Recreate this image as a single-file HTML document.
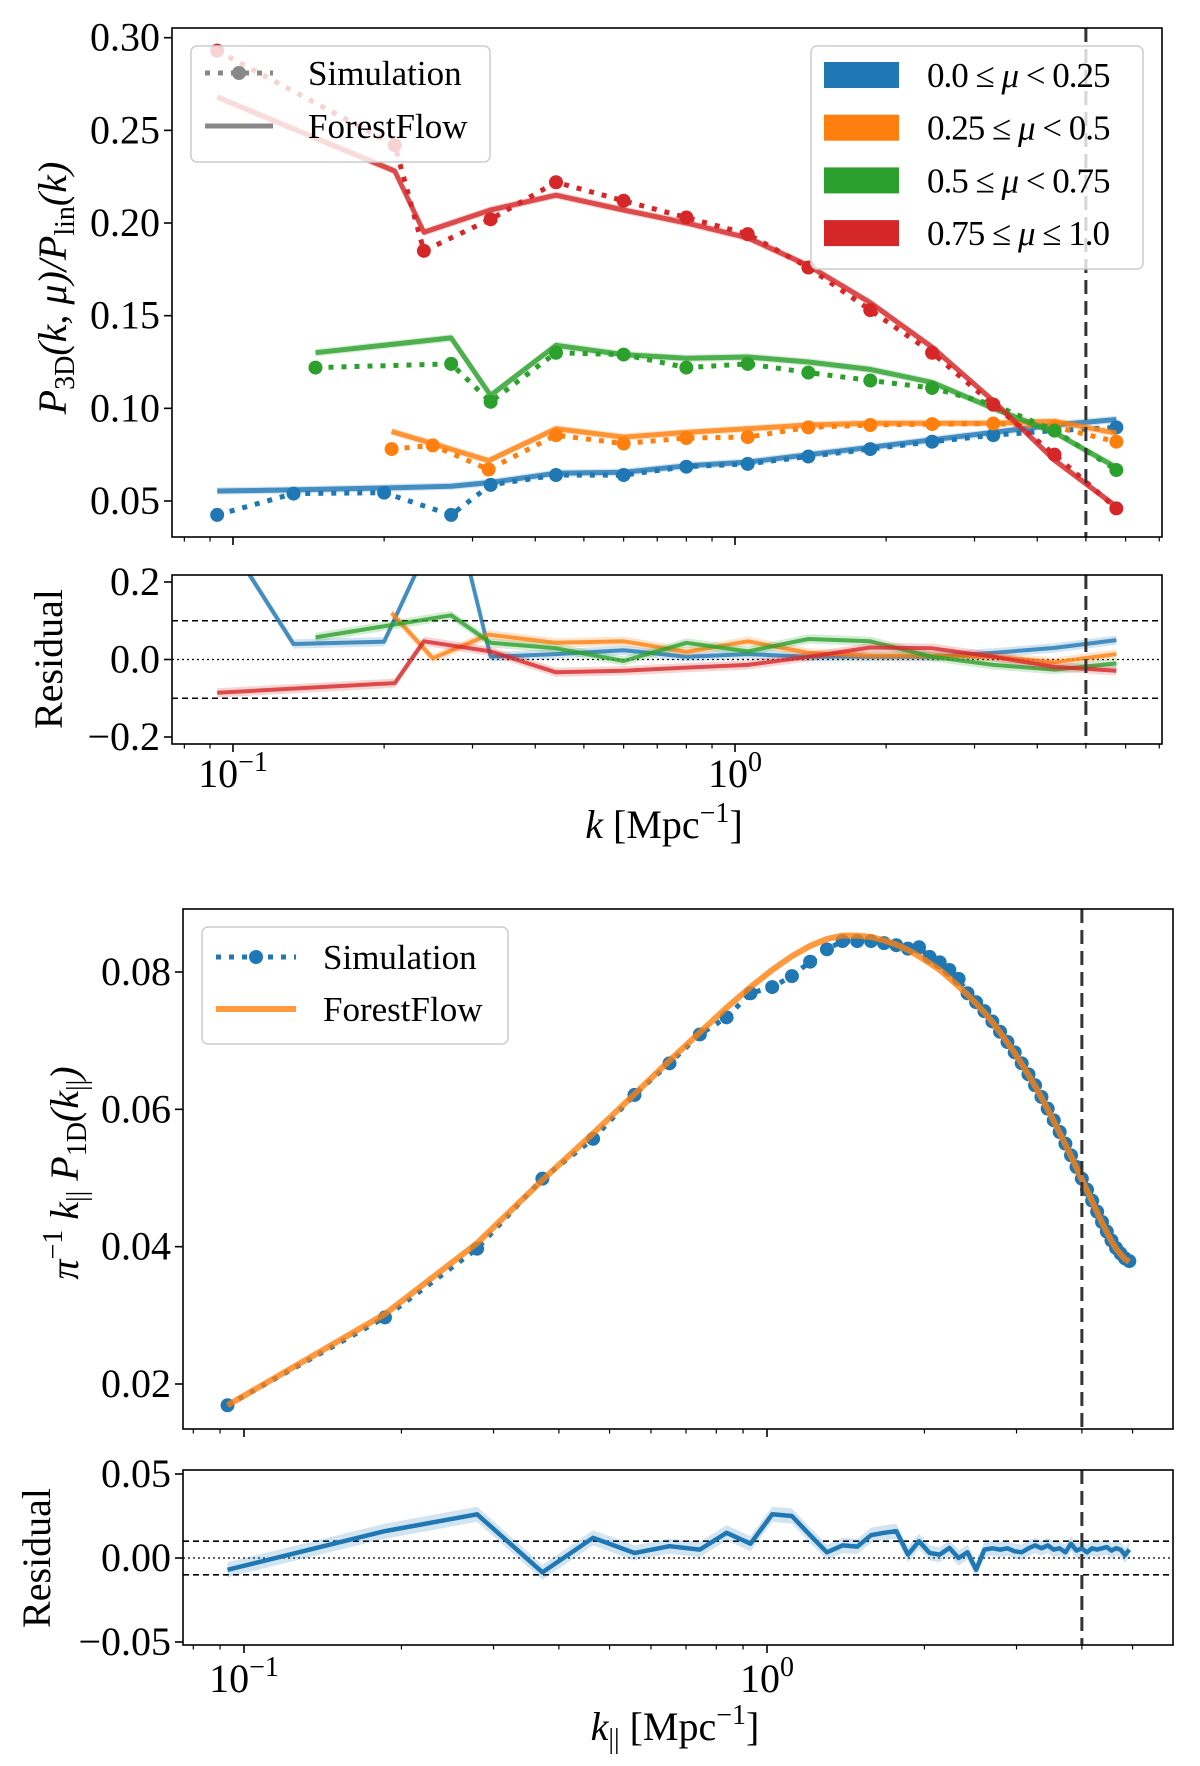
<!DOCTYPE html>
<html><head><meta charset="utf-8"><style>
body{margin:0;background:#fff}
svg{display:block;font-family:"Liberation Serif","Times New Roman",serif}
text,tspan{font-family:"Liberation Serif","Times New Roman",serif;fill:#000}
</style></head><body>
<svg id="fig" width="1200" height="1766" viewBox="0 0 1200 1766" font-family="Liberation Serif, serif" xmlns="http://www.w3.org/2000/svg"></svg>
<script>
// ---- top panel data (P3D) ----
const kTop = [0.093,0.132,0.20,0.272,0.326,0.44,0.60,0.80,1.06,1.40,1.86,2.47,3.27,4.33,5.75];
const blueSim = [0.0425,0.054,0.0545,0.0425,0.0587,0.064,0.064,0.0685,0.070,0.074,0.078,0.082,0.0855,0.088,0.0897];
const blueFF  = [0.0554,0.0560,0.0570,0.058,0.060,0.065,0.0655,0.069,0.071,0.075,0.079,0.083,0.087,0.091,0.094];
const kOr = [0.207,0.25,0.323,0.44,0.60,0.80,1.06,1.40,1.86,2.47,3.27,4.33,5.75];
const orSim = [0.078,0.080,0.067,0.0855,0.081,0.084,0.0845,0.0897,0.091,0.0915,0.0918,0.090,0.082];
const orFF  = [0.0875,0.081,0.0718,0.089,0.0845,0.087,0.089,0.091,0.092,0.092,0.092,0.093,0.0866];
const kGr = [0.146,0.272,0.326,0.44,0.60,0.80,1.06,1.40,1.86,2.47,3.27,4.33,5.75];
const grSim = [0.122,0.124,0.1035,0.130,0.129,0.122,0.124,0.1193,0.115,0.111,0.102,0.088,0.0667];
const grFF  = [0.130,0.138,0.107,0.134,0.129,0.127,0.1277,0.125,0.121,0.114,0.100,0.087,0.068];
const kRd = [0.093,0.21,0.24,0.326,0.44,0.60,0.80,1.06,1.40,1.86,2.47,3.27,4.33,5.75];
const rdSim = [0.293,0.242,0.185,0.202,0.222,0.212,0.203,0.194,0.176,0.153,0.130,0.102,0.075,0.046];
const rdFF  = [0.268,0.228,0.195,0.207,0.215,0.207,0.200,0.192,0.177,0.157,0.133,0.104,0.072,0.047];
const blueRes = [0.35,0.04,0.046,0.42,0.007,0.014,0.024,0.007,0.014,0.007,0.007,0.007,0.017,0.03,0.05];
const orRes = [0.12,0.003,0.064,0.043,0.047,0.02,0.047,0.017,0.01,0.01,0.007,-0.007,0.014];
const grRes = [0.057,0.114,0.043,0.029,-0.004,0.043,0.021,0.053,0.047,0.007,-0.014,-0.026,-0.01];
const rdRes = [-0.086,-0.061,0.047,0.021,-0.033,-0.029,-0.021,-0.014,0.007,0.031,0.029,0.007,-0.019,-0.029];
const topYTicks = [0.05,0.10,0.15,0.20,0.25,0.30];
const topYLabels = ["0.05","0.10","0.15","0.20","0.25","0.30"];
const resYTicks = [-0.2,0.0,0.2];
const resYLabels = ["\u22120.2","0.0","0.2"];
// ---- bottom panel data (P1D) ----
const k1d = [0.093,0.186,0.279,0.372,0.465,0.558,0.651,0.744,0.837,0.93,1.023,1.116,1.209,1.302,1.395,1.488,1.581,1.674,1.767,1.86,1.953,2.046,2.139,2.232,2.325,2.418,2.511,2.604,2.697,2.79,2.883,2.976,3.069,3.162,3.255,3.348,3.441,3.534,3.627,3.72,3.813,3.906,3.999,4.092,4.185,4.278,4.371,4.464,4.557,4.65,4.743,4.836,4.929];
const p1dSim = [0.0169,0.0297,0.0397,0.0499,0.0557,0.0621,0.0667,0.0709,0.0734,0.0769,0.0778,0.0794,0.0815,0.0833,0.0845,0.0845,0.0845,0.0842,0.0839,0.0834,0.0836,0.0822,0.0814,0.0803,0.0790,0.0769,0.0756,0.0743,0.0728,0.0713,0.0698,0.0683,0.0667,0.0651,0.0635,0.0618,0.0601,0.0584,0.0567,0.0550,0.0533,0.0516,0.0499,0.0483,0.0467,0.0451,0.0436,0.0422,0.0409,0.0398,0.0390,0.0383,0.0379];
const p1dFF = [0.0169,0.0302,0.0405,0.0497,0.0565,0.0622,0.0671,0.0712,0.0748,0.0778,0.0803,0.0823,0.0838,0.0848,0.0853,0.0853,0.0851,0.0846,0.0840,0.0832,0.0823,0.0813,0.0803,0.0791,0.0779,0.0767,0.0754,0.0741,0.0727,0.0712,0.0697,0.0682,0.0666,0.0650,0.0634,0.0617,0.0600,0.0583,0.0566,0.0549,0.0532,0.0515,0.0498,0.0482,0.0466,0.0450,0.0435,0.0421,0.0408,0.0397,0.0389,0.0382,0.0378];
const p1dRes = [-0.007,0.016,0.026,-0.0085,0.012,0.003,0.007,0.005,0.015,0.0085,0.026,0.025,0.0136,0.0034,0.0075,0.0068,0.0136,0.015,0.016,0.002,0.010,0.003,0.002,0.006,0.0,0.0034,-0.007,0.005,0.0058,0.005,0.0058,0.004,0.0034,0.0058,0.0075,0.0058,0.0075,0.005,0.0058,0.0034,0.0085,0.0044,0.0058,0.0034,0.0058,0.005,0.0058,0.0065,0.0044,0.0058,0.005,0.0017,0.005];
const botYTicks = [0.02,0.04,0.06,0.08];
const botYLabels = ["0.02","0.04","0.06","0.08"];
const botResTicks = [-0.05,0.0,0.05];
const botResLabels = ["\u22120.05","0.00","0.05"];

const NS="http://www.w3.org/2000/svg";
const svg=document.getElementById('fig');
function el(tag,attrs,parent,txt){const e=document.createElementNS(NS,tag);for(const a in attrs)e.setAttribute(a,attrs[a]);if(txt!==undefined)e.textContent=txt;(parent||svg).appendChild(e);return e;}
function grp(name){const g=el('g',{});


return g;}
function linY(v0,p0,v1,p1){return v=>p0+(v-v0)*(p1-p0)/(v1-v0);}

const BLUE='#1f77b4',ORANGE='#ff7f0e',GREEN='#2ca02c',RED='#d62728';

function frame(name,x0,y0,x1,y1){const r=el('rect',{x:x0,y:y0,width:x1-x0,height:y1-y0,fill:'none',stroke:'#000','stroke-width':1.6});

}
function xTicks(name,X,x0,x1,yb,labels,labY){const g=grp(name);
 for(let d=-2;d<=1;d++){for(let m=1;m<10;m++){const k=m*Math.pow(10,d);const x=X(k);if(x<x0||x>x1)continue;
  el('line',{x1:x,x2:x,y1:yb,y2:yb+(m===1?8:4.5),stroke:'#000','stroke-width':m===1?1.6:1.2},g);
  if(m===1&&labels){const t=el('text',{x:x,y:labY,'text-anchor':'middle','font-size':40},g);
   
   
   t.appendChild(document.createTextNode('10'));
   el('tspan',{dy:-16,'font-size':28},t,d===0?'0':'\u22121');}}}}
function yTicks(name,Y,xl,vals,labs,fs){const g=grp(name);
 vals.forEach((v,i)=>{const y=Y(v);el('line',{x1:xl-8,x2:xl,y1:y,y2:y,stroke:'#000','stroke-width':1.6},g);
  const t=el('text',{x:xl-12,y:y+13,'text-anchor':'end','font-size':fs||40},g,labs[i]);
  
  });}
function path(X,Y,ks,vs,attrs,parent){let d='';ks.forEach((k,i)=>{d+=(i?'L':'M')+X(k).toFixed(1)+','+Y(vs[i]).toFixed(1);});return el('path',Object.assign({d:d,fill:'none'},attrs),parent);}
function band(X,Y,ks,vs,w,color,op,parent){let up='',dn='';ks.forEach((k,i)=>{up+=(i?'L':'M')+X(k).toFixed(1)+','+Y(vs[i]+w).toFixed(1);});
 for(let i=ks.length-1;i>=0;i--)dn+='L'+X(ks[i]).toFixed(1)+','+Y(vs[i]-w).toFixed(1);
 return el('path',{d:up+dn+'Z',fill:color,'fill-opacity':op,stroke:'none'},parent);}
function clip(id,x,y,w,h){const c=el('clipPath',{id:id});el('rect',{x:x,y:y,width:w,height:h},c);}

// ================= TOP MAIN =================
{const L=172,R=1162,T=28,B=537;const Xf=k=>735+Math.log10(k)*502;const Y=linY(0.30,37.7,0.05,501);
 clip('c1',L,T,R-L,B-T);
 const g=grp('p3d-plot-area');g.setAttribute('clip-path','url(#c1)');
 const series=[['mu-0-0.25',kTop,blueSim,blueFF,BLUE],['mu-0.25-0.5',kOr,orSim,orFF,ORANGE],['mu-0.5-0.75',kGr,grSim,grFF,GREEN],['mu-0.75-1.0',kRd,rdSim,rdFF,RED]];
 series.forEach(([n,ks,sim,ff,c])=>{
  const sg=el('g',{},g);
  
  
  band(Xf,Y,ks,ff,0.002,c,0.2,sg);
  const fl=path(Xf,Y,ks,ff,{stroke:c,'stroke-width':5,'stroke-opacity':0.8,'stroke-linejoin':'round'},sg);
  
  
  const sl=path(Xf,Y,ks,sim,{stroke:c,'stroke-width':5,'stroke-dasharray':'5,8'},sg);
  
  
  ks.forEach((k,i)=>{const p=el('circle',{cx:Xf(k),cy:Y(sim[i]),r:7,fill:c},sg);
   
   });
 });
 const v=el('line',{x1:Xf(5),x2:Xf(5),y1:T,y2:B,stroke:'#333','stroke-width':3,'stroke-dasharray':'14,7'});
 
 
 frame('p3d-frame',L,T,R,B);
 xTicks('p3d-x-ticks',Xf,L,R,B,false);
 yTicks('p3d-y-ticks',Y,L,topYTicks,topYLabels);
 const yl=el('text',{transform:'translate(66,288) rotate(-90)','text-anchor':'middle','font-size':40,'font-style':'italic'});
 
 
 yl.innerHTML='P<tspan font-style="normal" font-size="28" dy="8">3D</tspan><tspan dy="-8">(k, μ)/P</tspan><tspan font-style="normal" font-size="28" dy="8">lin</tspan><tspan dy="-8">(k)</tspan>';
 const lg=grp('style-legend');
 el('rect',{x:191,y:46,width:299,height:116,rx:6,fill:'#fff','fill-opacity':0.8,stroke:'#ccc','stroke-width':1.5},lg);
 el('line',{x1:205,x2:273,y1:73,y2:73,stroke:'#888','stroke-width':5,'stroke-dasharray':'5,8'},lg);
 el('circle',{cx:239,cy:73,r:7,fill:'#888'},lg);
 el('line',{x1:205,x2:273,y1:126,y2:126,stroke:'#888','stroke-width':5},lg);
 el('text',{x:308,y:85,'font-size':35},lg,'Simulation');
 el('text',{x:308,y:138,'font-size':35},lg,'ForestFlow');
 const lg2=grp('mu-legend');
 el('rect',{x:811,y:46,width:332,height:223,rx:6,fill:'#fff','fill-opacity':0.8,stroke:'#ccc','stroke-width':1.5},lg2);
 const labs=['0.0 ≤ <tspan font-style="italic">μ</tspan> &lt; 0.25','0.25 ≤ <tspan font-style="italic">μ</tspan> &lt; 0.5','0.5 ≤ <tspan font-style="italic">μ</tspan> &lt; 0.75','0.75 ≤ <tspan font-style="italic">μ</tspan> ≤ 1.0'];
 [BLUE,ORANGE,GREEN,RED].forEach((c,i)=>{const y=75+i*52.7;el('rect',{x:824,y:y-13,width:75,height:26,fill:c},lg2);
  const t=el('text',{x:927,y:y+12,'font-size':35,'letter-spacing':-1},lg2);t.innerHTML=labs[i];});
}
// ================= TOP RESIDUAL =================
{const L=172,R=1162,T=575,B=744;const Xf=k=>735+Math.log10(k)*502;const Y=linY(0.2,582,-0.2,737);
 clip('c2',L,T,R-L,B-T);
 const g=grp('p3d-residual-area');g.setAttribute('clip-path','url(#c2)');
 [[-0.1,'6,4'],[0.1,'6,4'],[0,'2,3']].forEach(([v,da])=>el('line',{x1:L,x2:R,y1:Y(v),y2:Y(v),stroke:'#000','stroke-width':v===0?1.3:1.6,'stroke-dasharray':da},g));
 [[kTop,blueRes,BLUE,'blue'],[kOr,orRes,ORANGE,'orange'],[kGr,grRes,GREEN,'green'],[kRd,rdRes,RED,'red']].forEach(([ks,vs,c,n])=>{
  band(Xf,Y,ks,vs,0.012,c,0.2,g);
  const p=path(Xf,Y,ks,vs,{stroke:c,'stroke-width':4,'stroke-opacity':0.8,'stroke-linejoin':'round'},g);
  
  });
 el('line',{x1:Xf(5),x2:Xf(5),y1:T,y2:B,stroke:'#333','stroke-width':3,'stroke-dasharray':'14,7'});
 frame('p3d-residual-frame',L,T,R,B);
 xTicks('p3d-x-ticks-bottom',Xf,L,R,B,true,787);
 yTicks('p3d-residual-y-ticks',Y,L,resYTicks,resYLabels);
 const yl=el('text',{transform:'translate(62,659) rotate(-90)','text-anchor':'middle','font-size':40},undefined,'Residual');
 
 
 const xl=el('text',{x:664,y:838,'text-anchor':'middle','font-size':40});
 
 
 xl.innerHTML='<tspan font-style="italic">k</tspan> [Mpc<tspan font-size="28" dy="-16">−1</tspan><tspan dy="16">]</tspan>';
}
// ================= BOTTOM MAIN =================
{const L=183,R=1173,T=909,B=1429;const Xf=k=>767+Math.log10(k)*523;const Y=linY(0.08,972,0.02,1384);
 clip('c3',L,T,R-L,B-T);
 const g=grp('p1d-plot-area');g.setAttribute('clip-path','url(#c3)');
 const sl=path(Xf,Y,k1d,p1dSim,{stroke:BLUE,'stroke-width':5,'stroke-dasharray':'5,8'},g);
 
 
 k1d.forEach((k,i)=>{const p=el('circle',{cx:Xf(k),cy:Y(p1dSim[i]),r:7,fill:BLUE},g);
  
  });
 const fl=path(Xf,Y,k1d,p1dFF,{stroke:ORANGE,'stroke-width':6,'stroke-opacity':0.8,'stroke-linejoin':'round'},g);
 
 
 el('line',{x1:Xf(4),x2:Xf(4),y1:T,y2:B,stroke:'#333','stroke-width':3,'stroke-dasharray':'14,7'});
 frame('p1d-frame',L,T,R,B);
 xTicks('p1d-x-ticks',Xf,L,R,B,false);
 yTicks('p1d-y-ticks',Y,L,botYTicks,botYLabels);
 const yl=el('text',{transform:'translate(78,1173) rotate(-90)','text-anchor':'middle','font-size':40,'font-style':'italic'});
 
 
 yl.innerHTML='π<tspan font-style="normal" font-size="28" dy="-16">−1</tspan><tspan dy="16"> k</tspan><tspan font-style="normal" font-size="28" dy="8">||</tspan><tspan dy="-8"> P</tspan><tspan font-style="normal" font-size="28" dy="8">1D</tspan><tspan dy="-8">(k</tspan><tspan font-style="normal" font-size="28" dy="8">||</tspan><tspan dy="-8">)</tspan>';
 const lg=grp('p1d-legend');
 el('rect',{x:202,y:927,width:306,height:117,rx:6,fill:'#fff','fill-opacity':0.8,stroke:'#ccc','stroke-width':1.5},lg);
 el('line',{x1:216,x2:296,y1:957,y2:957,stroke:BLUE,'stroke-width':5,'stroke-dasharray':'5,8'},lg);
 el('circle',{cx:256,cy:957,r:7,fill:BLUE},lg);
 el('line',{x1:216,x2:296,y1:1009,y2:1009,stroke:ORANGE,'stroke-width':6,'stroke-opacity':0.8},lg);
 el('text',{x:323,y:969,'font-size':35},lg,'Simulation');
 el('text',{x:323,y:1021,'font-size':35},lg,'ForestFlow');
}
// ================= BOTTOM RESIDUAL =================
{const L=183,R=1173,T=1470,B=1645;const Xf=k=>767+Math.log10(k)*523;const Y=linY(0.05,1474,-0.05,1642);
 clip('c4',L,T,R-L,B-T);
 const g=grp('p1d-residual-area');g.setAttribute('clip-path','url(#c4)');
 [[-0.01,'6,4'],[0.01,'6,4'],[0,'2,3']].forEach(([v,da])=>el('line',{x1:L,x2:R,y1:Y(v),y2:Y(v),stroke:'#000','stroke-width':v===0?1.3:1.6,'stroke-dasharray':da},g));
 band(Xf,Y,k1d,p1dRes,0.0045,BLUE,0.2,g);
 const p=path(Xf,Y,k1d,p1dRes,{stroke:BLUE,'stroke-width':4.5,'stroke-linejoin':'round'},g);
 
 
 el('line',{x1:Xf(4),x2:Xf(4),y1:T,y2:B,stroke:'#333','stroke-width':3,'stroke-dasharray':'14,7'});
 frame('p1d-residual-frame',L,T,R,B);
 xTicks('p1d-x-ticks-bottom',Xf,L,R,B,true,1692);
 yTicks('p1d-residual-y-ticks',Y,L,botResTicks,botResLabels);
 const yl=el('text',{transform:'translate(50,1558) rotate(-90)','text-anchor':'middle','font-size':40},undefined,'Residual');
 
 
 const xl=el('text',{x:675,y:1740,'text-anchor':'middle','font-size':40});
 
 
 xl.innerHTML='<tspan font-style="italic">k</tspan><tspan font-size="28" dy="8">||</tspan><tspan dy="-8"> [Mpc</tspan><tspan font-size="28" dy="-16">−1</tspan><tspan dy="16">]</tspan>';
}
</script>
</body></html>
